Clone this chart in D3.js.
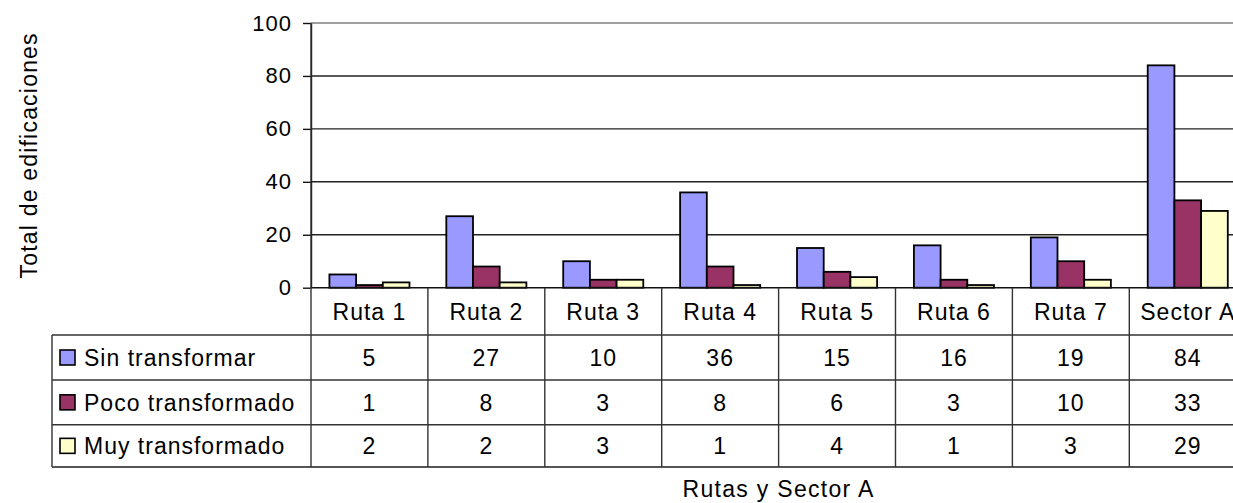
<!DOCTYPE html>
<html>
<head>
<meta charset="utf-8">
<script src="https://cdn.jsdelivr.net/npm/d3@7"></script>
<style>
  html, body { margin: 0; padding: 0; background: #fff; }
  svg { display: block; font-family: Arial, "Liberation Sans", sans-serif; }
</style>
</head>
<body>
<svg id="chart" width="1233" height="503"></svg>
<script>
// Categories and series values (total de edificaciones)
const categories = ["Ruta 1", "Ruta 2", "Ruta 3", "Ruta 4", "Ruta 5", "Ruta 6", "Ruta 7", "Sector A"];
const seriesNames = ["Sin transformar", "Poco transformado", "Muy transformado"];
const sinTransformar = [5, 27, 10, 36, 15, 16, 19, 84];
const pocoTransformado = [1, 8, 3, 8, 6, 3, 10, 33];
const muyTransformado = [2, 2, 3, 1, 4, 1, 3, 29];
const yTicks = [0, 20, 40, 60, 80, 100];
const seriesColors = ["#9999FF", "#993366", "#FFFFCC"];

const seriesValues = [sinTransformar, pocoTransformado, muyTransformado];

const svg = d3.select("#chart");

// Layout
const plotLeft = 311, bandW = 116.9;
const plotRight = plotLeft + categories.length * bandW;
const plotTop = 23, plotBottom = 287.7;
const tableLeft = 52;
const rowLines = [287.7, 335, 380, 424.7, 467];

const x = d3.scaleBand().domain(categories).range([plotLeft, plotRight]).padding(0);
const xSub = d3.scaleBand().domain(seriesNames).range([0, x.bandwidth()])
  .paddingInner(0).paddingOuter(0.69);
const y = d3.scaleLinear().domain([0, 100]).range([plotBottom, plotTop]);

// Horizontal gridlines
const grid = svg.append("g");
grid.selectAll("line").data(yTicks.filter(t => t > 0)).join("line")
  .attr("x1", plotLeft).attr("x2", plotRight)
  .attr("y1", d => y(d)).attr("y2", d => y(d))
  .attr("stroke", d => d === 100 ? "#7f7f7f" : "#222")
  .attr("stroke-width", 1.4);

// Y axis
const yAxis = svg.append("g").attr("transform", `translate(${plotLeft},0)`)
  .call(d3.axisLeft(y).tickValues(yTicks).tickSize(8).tickPadding(11).tickSizeOuter(0));
yAxis.select(".domain").attr("stroke", "#111").attr("stroke-width", 1.4);
yAxis.selectAll(".tick line").attr("stroke", "#111").attr("stroke-width", 1.4);
yAxis.selectAll(".tick text")
  .attr("font-size", 22).attr("fill", "#000")
  .style("letter-spacing", "1px")
  .attr("font-family", "Arial, 'Liberation Sans', sans-serif");

// Bars
const groups = svg.append("g").selectAll("g").data(categories).join("g")
  .attr("transform", d => `translate(${x(d)},0)`);
groups.selectAll("rect")
  .data((c, i) => seriesNames.map((s, k) => ({ s, k, v: seriesValues[k][i] })))
  .join("rect")
  .attr("x", d => xSub(d.s))
  .attr("width", xSub.bandwidth())
  .attr("y", d => y(d.v))
  .attr("height", d => y(0) - y(d.v))
  .attr("fill", d => seriesColors[d.k])
  .attr("stroke", "#000")
  .attr("stroke-width", 1.8);

// Data table
const table = svg.append("g");
const lineColor = "#333";

// Horizontal rules of the table
table.append("line")
  .attr("x1", plotLeft).attr("x2", plotRight)
  .attr("y1", rowLines[0]).attr("y2", rowLines[0])
  .attr("stroke", "#111").attr("stroke-width", 1.4);
table.selectAll("line.row").data(rowLines.slice(1)).join("line")
  .attr("class", "row")
  .attr("x1", tableLeft).attr("x2", plotRight)
  .attr("y1", d => d).attr("y2", d => d)
  .attr("stroke", (d, i) => i === 3 ? "#555" : lineColor)
  .attr("stroke-width", (d, i) => i === 3 ? 2 : 1.4);

// Vertical rules: category boundaries
const bounds = categories.map(c => x(c)).concat([plotRight]);
table.selectAll("line.col").data(bounds).join("line")
  .attr("class", "col")
  .attr("x1", d => d).attr("x2", d => d)
  .attr("y1", (d, i) => i === 0 ? plotTop : rowLines[0])
  .attr("y2", rowLines[4])
  .attr("stroke", lineColor).attr("stroke-width", 1.4);
table.append("line")
  .attr("x1", tableLeft).attr("x2", tableLeft)
  .attr("y1", rowLines[1]).attr("y2", rowLines[4])
  .attr("stroke", lineColor).attr("stroke-width", 1.4);

// Category headers
table.selectAll("text.cat").data(categories).join("text")
  .attr("class", "cat")
  .attr("x", d => x(d) + x.bandwidth() / 2)
  .attr("y", 319.5)
  .attr("text-anchor", "middle")
  .attr("font-size", 23)
  .style("letter-spacing", "1px")
  .text(d => d);

// Series rows: legend key, name, values
seriesNames.forEach((name, k) => {
  const top = rowLines[k + 1], bottom = rowLines[k + 2];
  const mid = (top + bottom) / 2;
  const base = mid + 8.3;
  table.append("rect")
    .attr("x", 60).attr("y", mid - 7.5)
    .attr("width", 15).attr("height", 15)
    .attr("fill", seriesColors[k]).attr("stroke", "#000").attr("stroke-width", 1.6);
  table.append("text")
    .attr("x", 84).attr("y", base)
    .attr("font-size", 23)
    .style("letter-spacing", "1px")
    .text(name);
  table.selectAll(null).data(seriesValues[k]).join("text")
    .attr("x", (d, i) => x(categories[i]) + x.bandwidth() / 2)
    .attr("y", base)
    .attr("text-anchor", "middle")
    .attr("font-size", 23)
    .style("letter-spacing", "1px")
    .text(d => d);
});

// Axis titles
svg.append("text")
  .attr("x", (plotLeft + plotRight) / 2).attr("y", 497)
  .attr("text-anchor", "middle")
  .attr("font-size", 23)
  .style("letter-spacing", "1.3px")
  .text("Rutas y Sector A");

svg.append("text")
  .attr("transform", `translate(37,${(plotTop + plotBottom) / 2}) rotate(-90)`)
  .attr("text-anchor", "middle")
  .attr("font-size", 23)
  .style("letter-spacing", "1.2px")
  .text("Total de edificaciones");
</script>
</body>
</html>
